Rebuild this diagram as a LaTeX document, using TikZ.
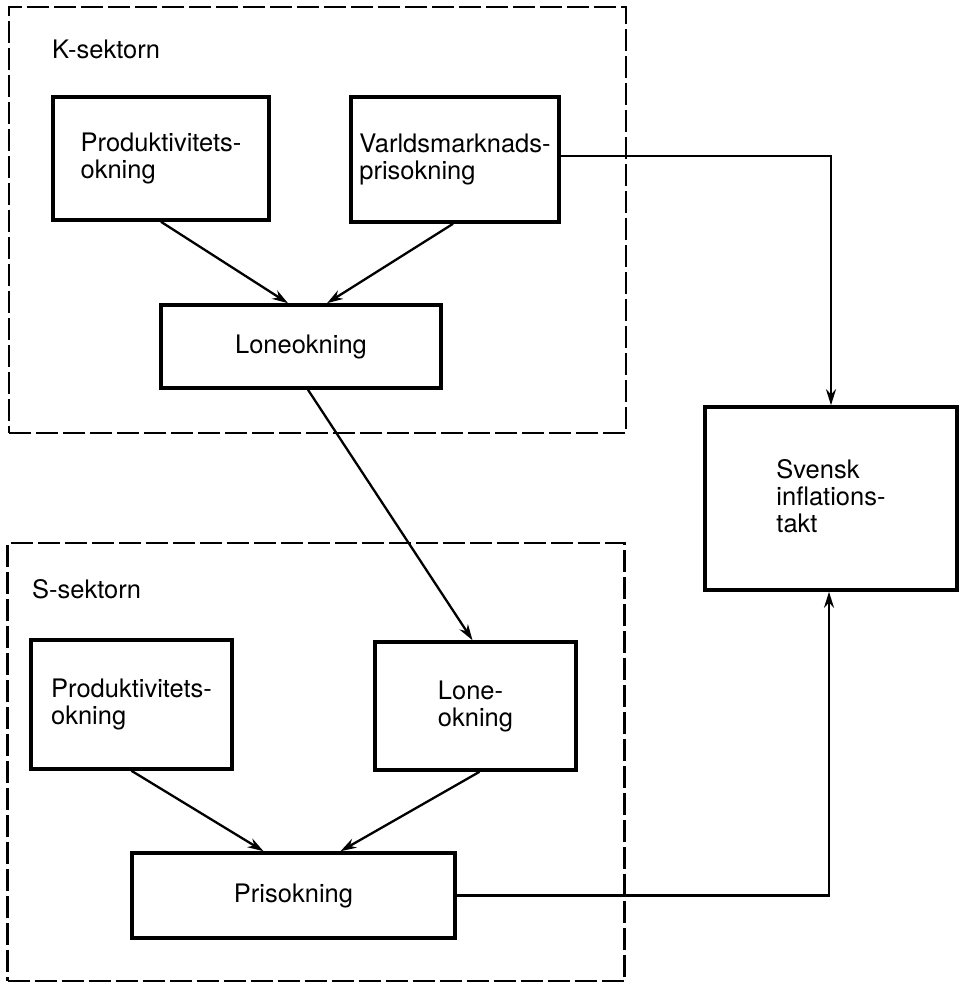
\documentclass[tikz,border=0pt]{standalone}
\usepackage{fontspec}
\setmainfont{TeX Gyre Heros}
\usetikzlibrary{arrows.meta}
\begin{document}
\begin{tikzpicture}[x=1pt,y=-1pt,
  sector/.style={draw, line width=2.7pt, dash pattern=on 22pt off 5pt, inner sep=0pt},
  box/.style={draw, line width=3.6pt, inner sep=0pt, align=left,
    font=\fontsize{25.5}{27}\selectfont},
  lbl/.style={inner sep=0pt, anchor=base west, font=\fontsize{25.5}{27}\selectfont},
  conn/.style={line width=2.3pt, -{Stealth[length=16pt,width=10pt]}},
  wire/.style={line width=2.3pt}]
\useasboundingbox (0,0) rectangle (963,985);
\fill[white] (0,0) rectangle (963,985);

% sectors
\node (K) [sector, minimum width=617pt, minimum height=426pt] at (317.5,220) {};
\node (S) [sector, minimum width=617pt, minimum height=438pt] at (316,762) {};
\node (Klbl) [lbl] at (52,58) {K-sektorn};
\node (Slbl) [lbl] at (32,598) {S-sektorn};

% boxes
\node (kprod) [box, minimum width=216pt, minimum height=123pt] at (161,158.5) {Produktivitets-\\okning};
\node (kvm) [box, minimum width=208pt, minimum height=125pt] at (455,159.5) {Varldsmarknads-\\prisokning};
\node (klone) [box, minimum width=280pt, minimum height=83pt] at (301,346.5) {Loneokning};
\node (sprod) [box, minimum width=201pt, minimum height=129pt] at (131.5,704.5) {Produktivitets-\\okning};
\node (slone) [box, minimum width=201pt, minimum height=128pt] at (475.5,706) {Lone-\\okning};
\node (spris) [box, minimum width=323pt, minimum height=85pt] at (293.5,895.5) {Prisokning};
\node (svensk) [box, minimum width=252pt, minimum height=183pt] at (831,498.5) {Svensk\\inflations-\\takt\vphantom{g}};

% connectors
\draw[conn] (kprod.south) -- ([xshift=-13pt]klone.north);
\draw[conn] ([xshift=-2pt]kvm.south) -- ([xshift=26pt]klone.north);
\draw[conn] ([xshift=7pt]klone.south) -- ([xshift=-3pt]slone.north);
\draw[conn] (sprod.south) -- ([xshift=-30pt]spris.north);
\draw[conn] ([xshift=4pt]slone.south) -- ([xshift=47pt]spris.north);
\draw[conn] ([yshift=3.5pt]kvm.east) -| (svensk.north);
\draw[conn] (spris.east) -| ([xshift=-2pt]svensk.south);
\end{tikzpicture}
\end{document}
